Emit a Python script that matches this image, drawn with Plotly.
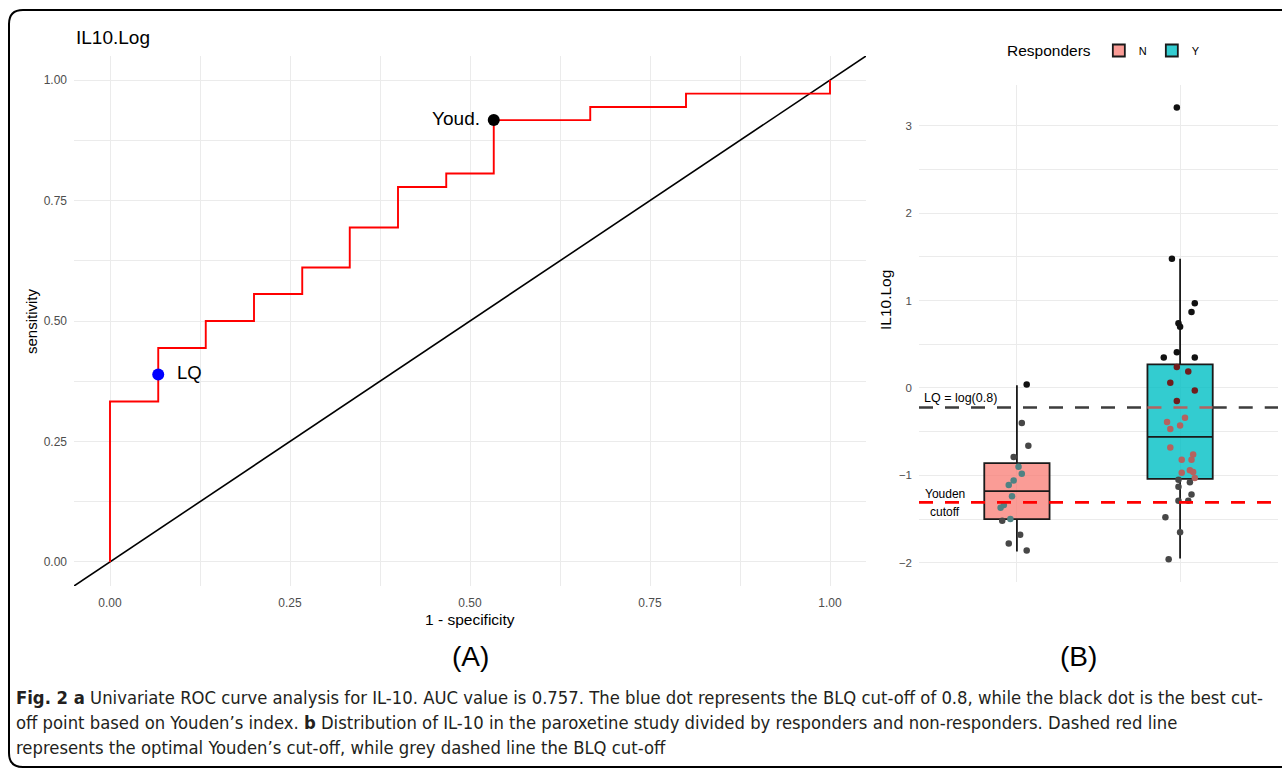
import plotly.graph_objects as go

# ---------------- data ----------------
roc_fpr = [0.0, 0.0, 0.067, 0.133, 0.2, 0.267, 0.333, 0.4, 0.467, 0.533, 0.667, 0.8, 1.0]
roc_tpr = [0.0, 0.333, 0.444, 0.5, 0.556, 0.611, 0.694, 0.778, 0.806, 0.917, 0.944, 0.972, 1.0]
ref_line = [-0.05, 1.05]
lq_point = (0.067, 0.389)
youden_point = (0.533, 0.917)
roc_ticks = [0.0, 0.25, 0.5, 0.75, 1.0]
roc_ticktext = ["0.00", "0.25", "0.50", "0.75", "1.00"]

groups = ["N", "Y"]
group_pos = [1, 2]
box_q1 = [-1.50, -1.04]
box_median = [-1.18, -0.56]
box_q3 = [-0.86, 0.27]
box_low = [-1.87, -1.95]
box_high = [0.03, 1.48]

n_vals = [0.04, -0.40, -0.66, -0.79, -0.90, -0.98, -1.06, -1.11, -1.24, -1.34, -1.37,
          -1.50, -1.52, -1.68, -1.78, -1.86]
n_jit = [1.06, 1.03, 1.07, 0.98, 1.01, 1.03, 0.98, 0.95, 0.97, 0.92, 0.90,
         0.96, 0.91, 1.02, 0.95, 1.06]
y_vals = [3.21, 1.48, 0.97, 0.87, 0.74, 0.70, 0.41, 0.35, 0.35, 0.24, 0.19, 0.06, -0.03,
          -0.15, -0.34, -0.39, -0.43, -0.47, -0.68, -0.76, -0.82, -0.82, -0.94, -0.96,
          -0.97, -1.03, -1.05, -1.08, -1.13, -1.22, -1.29, -1.29, -1.48, -1.65, -1.96]
y_jit = [1.98, 1.95, 2.09, 2.07, 1.99, 2.00, 1.98, 1.90, 2.09, 1.98, 2.05, 1.94, 2.09,
         1.98, 2.03, 1.92, 2.00, 1.94, 1.94, 2.08, 2.01, 2.07, 2.06, 2.08,
         2.01, 2.09, 1.99, 2.06, 1.99, 2.07, 1.99, 2.05, 1.91, 2.00, 1.93]
lq_cut = -0.223       # log(0.8)
youden_cut = -1.31
b_ticks = [-2, -1, 0, 1, 2, 3]

W, H = 1282, 776
def px(x):
    return x / W
def py(y):
    return 1 - y / H

FONT = "Liberation Sans, Arial, Helvetica, sans-serif"
GRID = "#ebebeb"
TICKC = "#4d4d4d"

fig = go.Figure()

# ---------------- panel A : ROC ----------------
fig.add_trace(go.Scatter(x=ref_line, y=ref_line, mode="lines",
                         line=dict(color="black", width=1.6),
                         xaxis="x", yaxis="y", showlegend=False, hoverinfo="skip"))
fig.add_trace(go.Scatter(x=roc_fpr, y=roc_tpr, mode="lines", line_shape="hv",
                         line=dict(color="#ff0000", width=1.9),
                         xaxis="x", yaxis="y", showlegend=False))
fig.add_trace(go.Scatter(x=[lq_point[0]], y=[lq_point[1]], mode="markers+text",
                         marker=dict(color="#0000ff", size=12),
                         text=["  LQ"], textposition="middle right",
                         textfont=dict(size=18.5, color="black", family=FONT),
                         xaxis="x", yaxis="y", showlegend=False))
fig.add_trace(go.Scatter(x=[youden_point[0]], y=[youden_point[1]], mode="markers+text",
                         marker=dict(color="black", size=12),
                         text=["Youd. "], textposition="middle left",
                         textfont=dict(size=19, color="black", family=FONT),
                         xaxis="x", yaxis="y", showlegend=False))

# ---------------- panel B : boxplots ----------------
fills = ["rgba(248,118,109,0.72)", "rgba(0,191,196,0.8)"]
for i, g in enumerate(groups):
    fig.add_trace(go.Box(x=[group_pos[i]], q1=[box_q1[i]], median=[box_median[i]],
                         q3=[box_q3[i]], lowerfence=[box_low[i]], upperfence=[box_high[i]],
                         name=g, width=0.4, whiskerwidth=0, boxpoints=False,
                         fillcolor=fills[i], line=dict(color="#1a1a1a", width=1.8),
                         xaxis="x2", yaxis="y2", showlegend=True))

def pt_color(v, gi):
    inside = box_q1[gi] <= v <= box_q3[gi]
    above = v > lq_cut
    if inside:
        if gi == 0:
            return "#4f8283"
        return "#701d1d" if above else "#b5625f"
    return "#111111" if above else "#474747"

for gi, (xs, vs) in enumerate([(n_jit, n_vals), (y_jit, y_vals)]):
    fig.add_trace(go.Scatter(x=xs, y=vs, mode="markers",
                             marker=dict(size=6.5, color=[pt_color(v, gi) for v in vs]),
                             xaxis="x2", yaxis="y2", showlegend=False))

# dashed cut-off lines
dash = "14px,12px"
shapes = []
bx0, bx1 = group_pos[1] - 0.2, group_pos[1] + 0.2
for (a, b, col) in [(0.4, bx0, "#3d3d3d"), (bx0, bx1, "#b5625f"), (bx1, 2.6, "#3d3d3d")]:
    shapes.append(dict(type="line", xref="x2", yref="y2", x0=a, x1=b, y0=lq_cut, y1=lq_cut,
                       line=dict(color=col, width=2.6, dash=dash), layer="above"))
shapes.append(dict(type="line", xref="x2", yref="y2", x0=0.4, x1=2.6, y0=youden_cut, y1=youden_cut,
                   line=dict(color="#ff0000", width=2.8, dash=dash), layer="above"))

# frame
rx, ry = 14 / W, 14 / H
x0, x1, yt, yb = px(9), 1.02, py(10), py(767)
frame = (f"M {x1},{yt} L {x0+rx},{yt} Q {x0},{yt} {x0},{yt-ry} "
         f"L {x0},{yb+ry} Q {x0},{yb} {x0+rx},{yb} L {x1},{yb}")
shapes.append(dict(type="path", xref="paper", yref="paper", path=frame,
                   line=dict(color="black", width=2)))

ann = []
def txt(x, y, s, size, color="black", xanchor="center", angle=0, family=FONT):
    ann.append(dict(x=px(x), y=py(y), xref="paper", yref="paper", text=s, showarrow=False,
                    xanchor=xanchor, yanchor="middle", textangle=angle,
                    font=dict(size=size, color=color, family=family)))

txt(74, 37, "IL10.Log", 19, xanchor="left")
txt(31, 321, "sensitivity", 15, angle=-90)
txt(470, 619, "1 - specificity", 15.5)
txt(470, 656, "(A)", 28)
txt(1078, 656, "(B)", 28)
txt(886, 300, "IL10.Log", 15.5, angle=-90)
txt(960, 398, "LQ = log(0.8)", 12.5)
txt(945, 494, "Youden", 12)
txt(945, 512, "cutoff", 12)

CAP = "DejaVu Sans Condensed, Liberation Sans Narrow, sans-serif"
cap_lines = [
    "<b>Fig. 2 a</b> Univariate ROC curve analysis for IL-10. AUC value is 0.757. The blue dot represents the BLQ cut-off of 0.8, while the black dot is the best cut-",
    "off point based on Youden\u2019s index. <b>b</b> Distribution of IL-10 in the paroxetine study divided by responders and non-responders. Dashed red line",
    "represents the optimal Youden\u2019s cut-off, while grey dashed line the BLQ cut-off",
]
for k, s in enumerate(cap_lines):
    txt(14, 697 + 25 * k, s, 18.3, color="#231f20", xanchor="left", family=CAP)

fig.update_layout(
    width=W, height=H, margin=dict(l=0, r=0, t=0, b=0),
    paper_bgcolor="white", plot_bgcolor="white",
    font=dict(family=FONT, color="black"),
    shapes=shapes, annotations=ann,
    xaxis=dict(domain=[px(74), px(866)], range=[-0.05, 1.05], tickvals=roc_ticks,
               ticktext=roc_ticktext, showgrid=True, gridcolor=GRID, gridwidth=1.2,
               zeroline=False, showline=False, ticks="", ticklabelstandoff=8,
               tickfont=dict(size=12, color=TICKC),
               minor=dict(showgrid=True, dtick=0.125, tick0=0, gridcolor=GRID, gridwidth=0.8),
               anchor="y"),
    yaxis=dict(domain=[py(586), py(56)], range=[-0.05, 1.05], tickvals=roc_ticks,
               ticktext=roc_ticktext, showgrid=True, gridcolor=GRID, gridwidth=1.2,
               zeroline=False, showline=False, ticks="", ticklabelstandoff=6,
               tickfont=dict(size=12, color=TICKC),
               minor=dict(showgrid=True, dtick=0.125, tick0=0, gridcolor=GRID, gridwidth=0.8),
               anchor="x"),
    xaxis2=dict(domain=[px(919), px(1278)], range=[0.4, 2.6], tickvals=group_pos,
                ticktext=["", ""], showgrid=True, gridcolor=GRID, gridwidth=1.2,
                zeroline=False, showline=False, ticks="", anchor="y2"),
    yaxis2=dict(domain=[py(582), py(85)], range=[-2.22, 3.467], tickvals=b_ticks,
                showgrid=True, gridcolor=GRID, gridwidth=1.2,
                zeroline=False, showline=False, ticks="", ticklabelstandoff=6,
                tickfont=dict(size=11.5, color=TICKC),
                minor=dict(showgrid=True, dtick=0.5, tick0=0, gridcolor=GRID, gridwidth=0.8),
                anchor="x2"),
    legend=dict(orientation="h", x=px(1005), y=py(36), xanchor="left", yanchor="top",
                title=dict(text="Responders", font=dict(size=15.5), side="left"),
                font=dict(size=11), itemwidth=30, bgcolor="rgba(0,0,0,0)"),
    showlegend=True,
)

fig.write_html("out.html", config={"displayModeBar": False},
               post_script="document.body.style.margin='0';")
